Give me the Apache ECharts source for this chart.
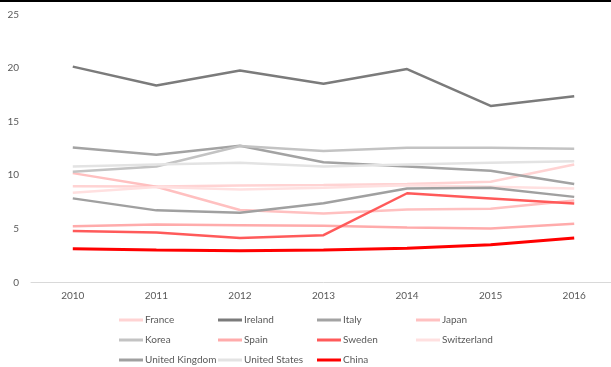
<!DOCTYPE html>
<html>
<head>
<meta charset="utf-8">
<script src="https://cdn.jsdelivr.net/npm/echarts@6/dist/echarts.min.js"></script>
<style>
html,body{margin:0;padding:0;background:#fff;overflow:hidden;width:611px;height:367px;}
#c{width:620px;height:367px;}
</style>
</head>
<body>
<div id="c"></div>
<script>
var years = ['2010','2011','2012','2013','2014','2015','2016'];
var france = [8.98, 8.95, 9.05, 9.1, 9.18, 9.4, 11.0];
var ireland = [20.15, 18.38, 19.78, 18.55, 19.92, 16.48, 17.38];
var italy = [12.6, 11.92, 12.76, 11.22, 10.82, 10.43, 9.18];
var japan = [10.2, 8.93, 6.75, 6.42, 6.81, 6.88, 7.65];
var korea = [10.32, 10.82, 12.74, 12.26, 12.57, 12.57, 12.47];
var spain = [5.24, 5.4, 5.34, 5.28, 5.13, 5.02, 5.48];
var sweden = [4.8, 4.66, 4.15, 4.4, 8.32, 7.84, 7.36];
var switzerland = [8.37, 8.9, 8.66, 8.84, 9.06, 8.93, 8.77];
var uk = [7.84, 6.72, 6.5, 7.38, 8.77, 8.84, 7.98];
var us = [10.82, 11.0, 11.17, 10.82, 11.0, 11.18, 11.32];
var china = [3.14, 3.02, 2.95, 3.02, 3.17, 3.51, 4.14];
var yTicks = [0, 5, 10, 15, 20, 25];

var seriesDefs = [
  ['France', france, '#ffd3d3'],
  ['Ireland', ireland, '#7b7b7b'],
  ['Italy', italy, '#a3a3a3'],
  ['Japan', japan, '#ffc0c0'],
  ['Korea', korea, '#c3c3c3'],
  ['Spain', spain, '#ffabab'],
  ['Sweden', sweden, '#ff5a5a'],
  ['Switzerland', switzerland, '#ffe0e0'],
  ['United Kingdom', uk, '#a0a0a0'],
  ['United States', us, '#e3e3e3'],
  ['China', china, '#ff0000']
];

var series = seriesDefs.map(function(d){
  return {
    name: d[0], type: 'line', data: d[1], symbol: 'none', smooth: false,
    itemStyle: {color: d[2]},
    lineStyle: {color: d[2], width: d[0]==='China' ? 3 : 2.5},
    z: d[0]==='China' ? 5 : 2
  };
});

var cols = [119, 218, 317, 416];
var legendCols = [[],[],[],[]];
seriesDefs.forEach(function(d,i){ legendCols[i%4].push(d[0]); });
var legends = legendCols.map(function(names, i){
  return {
    data: names, orient: 'vertical', left: cols[i], top: 314,
    icon: 'rect', itemWidth: 24, itemHeight: 3, itemGap: 8,
    textStyle: {color:'#595959', fontFamily:'Lato', fontSize:10, lineHeight:12, padding:[0,0,0,-3]},
    padding: 0, selectedMode: false
  };
});

var chart = echarts.init(document.getElementById('c'), null, {renderer:'canvas'});
chart.setOption({
  animation: false,
  backgroundColor: '#ffffff',
  grid: {left: 31, right: 4, top: 14.7, bottom: 84.7, containLabel: false},
  xAxis: {
    type: 'category', data: years, boundaryGap: true,
    axisLine: {lineStyle: {color:'#d9d9d9', width:1}},
    axisTick: {show:false},
    axisLabel: {color:'#595959', fontFamily:'Lato', fontSize:10, margin: 8}
  },
  yAxis: {
    type: 'value', min: yTicks[0], max: yTicks[yTicks.length-1], interval: 5,
    axisLine: {show:false}, axisTick: {show:false}, splitLine: {show:false},
    axisLabel: {color:'#595959', fontFamily:'Lato', fontSize:10, margin: 12}
  },
  legend: legends,
  series: series,
  graphic: [{type:'rect', left:0, top:0, shape:{width:620, height:2}, style:{fill:'#000'}}]
});
</script>
</body>
</html>
